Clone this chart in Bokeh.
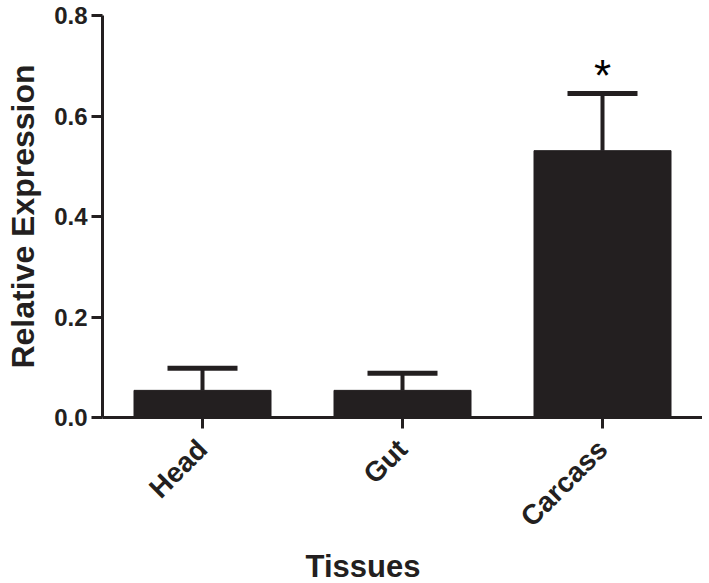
from bokeh.plotting import figure
from bokeh.models import (FactorRange, Range1d, FixedTicker, PrintfTickFormatter,
                          ColumnDataSource, Whisker, TeeHead, Title)
from bokeh.core.properties import value
from bokeh.embed import file_html
from bokeh.resources import INLINE
import math

tissues = ["Head", "Gut", "Carcass"]
expression = [0.054, 0.054, 0.531]
sem = [0.044, 0.034, 0.114]
y_ticks = [0.0, 0.2, 0.4, 0.6, 0.8]
sig_tissue = ["Carcass"]
sig_y = [0.68]
sig_text = ["*"]

INK = "#231f20"
FONT = "Liberation Sans"

upper = [e + s for e, s in zip(expression, sem)]
src = ColumnDataSource(dict(x=tissues, top=expression, upper=upper))

p = figure(x_range=FactorRange(*tissues, range_padding=0), y_range=Range1d(0, 0.8),
           width=702, height=583, output_backend="svg", toolbar_location=None,
           min_border_left=102, min_border_right=0, min_border_top=15, min_border_bottom=166)

p.vbar(x="x", top="top", width=0.685, source=src, fill_color=INK, line_color=INK)

w = Whisker(base="x", lower="top", upper="upper", source=src,
            line_color=INK, line_width=4,
            upper_head=TeeHead(size=70, line_color=INK, line_width=5), lower_head=None)
p.add_layout(w)

p.text(x=sig_tissue, y=sig_y, text=sig_text, text_font=value(FONT), text_font_size="44px",
       text_align="center", text_baseline="middle", text_color="black")

p.xgrid.visible = False
p.ygrid.visible = False
p.outline_line_color = None

for ax in (p.xaxis[0], p.yaxis[0]):
    ax.axis_line_color = INK
    ax.axis_line_width = 3
    ax.major_tick_line_color = INK
    ax.major_tick_line_width = 3
    ax.major_tick_out = 11
    ax.major_tick_in = 0
    ax.minor_tick_line_color = None
    ax.major_label_text_font = FONT
    ax.major_label_text_font_style = "bold"
    ax.major_label_text_color = INK

p.yaxis.ticker = FixedTicker(ticks=y_ticks)
p.yaxis.formatter = PrintfTickFormatter(format="%.1f")
p.yaxis.major_label_text_font_size = "24px"
p.yaxis.major_label_standoff = 4
p.yaxis.axis_label = "Relative Expression"
p.yaxis.axis_label_text_font = FONT
p.yaxis.axis_label_text_font_style = "bold"
p.yaxis.axis_label_text_font_size = "32px"
p.yaxis.axis_label_text_color = INK
p.yaxis.axis_label_standoff = 10

p.xaxis.major_label_orientation = math.pi / 4
p.xaxis.major_label_text_font_size = "28px"
p.xaxis.major_label_standoff = 16

p.add_layout(Title(text="Tissues", align="left", offset=203, text_font=FONT,
                   text_font_style="bold", text_font_size="31px", text_color=INK,
                   text_line_height=0.35, standoff=0), "below")

open("out.html", "w").write(file_html(p, INLINE))
